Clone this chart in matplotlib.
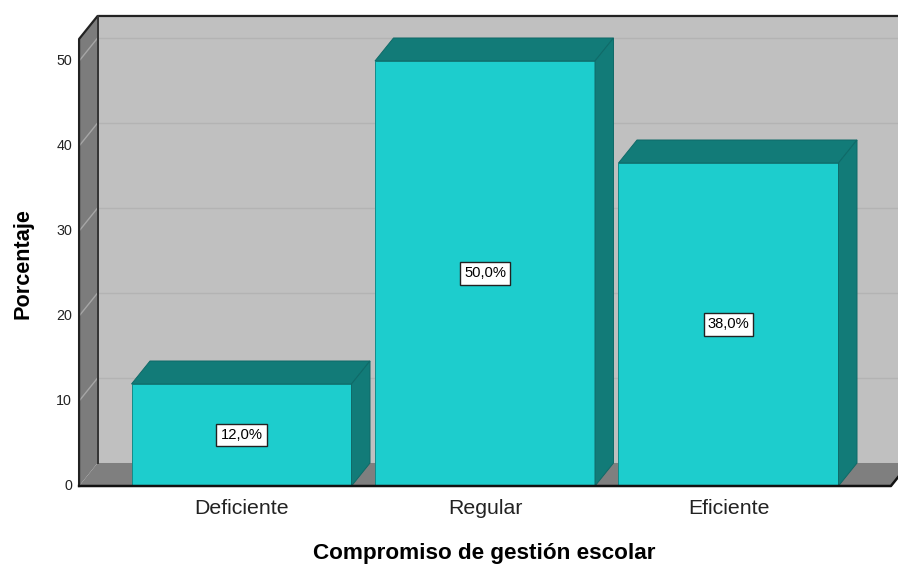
import matplotlib.pyplot as plt
from matplotlib.patches import Polygon

# datos
categorias = ['Deficiente', 'Regular', 'Eficiente']
porcentajes = [12.0, 50.0, 38.0]
etiquetas = ['12,0%', '50,0%', '38,0%']
ticks_y = [0, 10, 20, 30, 40, 50]

# colores
c_frente = '#1DCDCD'
c_lado = '#127B78'
c_fondo = '#C0C0C0'
c_pared = '#7C7C7C'
c_piso = '#7F7F7F'

plt.rcParams['font.family'] = ['Liberation Sans', 'DejaVu Sans']

fig = plt.figure(figsize=(8.98, 5.66), dpi=100)
ax = fig.add_axes([0, 0, 1, 1])
ax.set_xlim(-0.9918, 2.6961)
ax.set_ylim(-9.412, 57.176)
ax.axis('off')

# profundidad del efecto 3D (en unidades de datos)
dx = 0.076
dy = 2.706
ancho = 0.9035
x_izq = -0.667
x_der = 2.667
y_max = 52.59

# pared del fondo
ax.add_patch(Polygon([(x_izq + dx, dy), (x_der + dx, dy), (x_der + dx, y_max + dy),
                      (x_izq + dx, y_max + dy)], closed=True, fc=c_fondo, ec='none', zorder=1))
# pared izquierda
ax.add_patch(Polygon([(x_izq, 0), (x_izq + dx, dy), (x_izq + dx, y_max + dy), (x_izq, y_max)],
                     closed=True, fc=c_pared, ec='none', zorder=1))
# piso
ax.add_patch(Polygon([(x_izq, 0), (x_der, 0), (x_der + dx, dy), (x_izq + dx, dy)],
                     closed=True, fc=c_piso, ec='none', zorder=1))

# lineas de cuadricula
for t in ticks_y[1:]:
    ax.plot([x_izq, x_izq + dx], [t, t + dy], color='#A6A6A6', lw=1, zorder=2)
    ax.plot([x_izq + dx, x_der + dx], [t + dy, t + dy], color='#B3B3B3', lw=1, zorder=2)

# bordes
ax.plot([x_izq, x_izq, x_izq + dx, x_der + 2 * dx], [0, y_max, y_max + dy, y_max + dy],
        color='#222222', lw=1.6, zorder=3)
ax.plot([x_izq + dx, x_izq + dx], [dy, y_max + dy], color='#333333', lw=1.4, zorder=3)
ax.plot([x_izq, x_der, x_der + dx], [0, 0, dy], color='#111111', lw=1.8, zorder=6)

# barras 3D
for i, v in enumerate(porcentajes):
    x0 = i - ancho / 2
    x1 = i + ancho / 2
    ax.add_patch(Polygon([(x0, 0), (x1, 0), (x1, v), (x0, v)], closed=True,
                         fc=c_frente, ec='#138C8A', lw=0.7, zorder=4))
    ax.add_patch(Polygon([(x0, v), (x1, v), (x1 + dx, v + dy), (x0 + dx, v + dy)], closed=True,
                         fc=c_lado, ec='#0F6A68', lw=0.7, zorder=4))
    ax.add_patch(Polygon([(x1, 0), (x1 + dx, dy), (x1 + dx, v + dy), (x1, v)], closed=True,
                         fc=c_lado, ec='#0F6A68', lw=0.7, zorder=4))
    ax.text(i, v / 2, etiquetas[i], ha='center', va='center', fontsize=10.6, zorder=5,
            bbox=dict(boxstyle='square,pad=0.28', fc='white', ec='#222222', lw=1))
    ax.text(i, -2.59, categorias[i], ha='center', va='center', fontsize=15.3, color='#222222')

# etiquetas eje y
for t in ticks_y:
    ax.text(-0.696, t, str(t), ha='right', va='center', fontsize=10.3, color='#222222')

fig.text(23 / 898, 1 - 264 / 566, 'Porcentaje', rotation=90, ha='center', va='center',
         fontsize=15.6, fontweight='bold')
fig.text(484 / 898, 1 - 553 / 566, 'Compromiso de gestión escolar', ha='center', va='center',
         fontsize=16.2, fontweight='bold')

fig.savefig('out.png', dpi=100)
